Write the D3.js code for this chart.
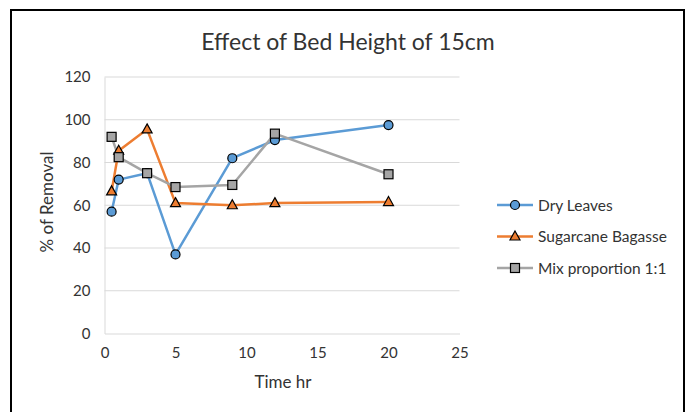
<!DOCTYPE html>
<html>
<head>
<meta charset="utf-8">
<script src="https://cdn.jsdelivr.net/npm/d3@7"></script>
<style>
  body { margin: 0; background: #fff; }
  text { font-family: Lato, "Open Sans", sans-serif; fill: #333; }
</style>
</head>
<body>
<svg id="chart" width="689" height="412"></svg>
<script>
const times = [0.5, 1, 3, 5, 9, 12, 20];
const dryLeaves = [57, 72, 75, 37, 82, 90.5, 97.5];
const bagasse = [66.5, 85.5, 95.5, 61, 60, 61, 61.5];
const mix = [92, 82.5, 75, 68.5, 69.5, 93.5, 74.5];
const xTicks = [0, 5, 10, 15, 20, 25];
const yTicks = [0, 20, 40, 60, 80, 100, 120];

const series = [
    { name: 'Dry Leaves', values: dryLeaves, color: '#5b9bd5', shape: 'circle' },
    { name: 'Sugarcane Bagasse', values: bagasse, color: '#ed7d31', shape: 'triangle' },
    { name: 'Mix proportion 1:1', values: mix, color: '#a5a5a5', shape: 'square' }
];

const svg = d3.select('#chart');

// outer frame
svg.append('rect')
    .attr('x', 11).attr('y', 10)
    .attr('width', 673).attr('height', 420)
    .attr('fill', 'none').attr('stroke', '#000').attr('stroke-width', 2);

const x = d3.scaleLinear().domain([0, 25]).range([104.5, 459.5]);
const y = d3.scaleLinear().domain([0, 120]).range([333.5, 77]);

// gridlines
svg.append('g').selectAll('line').data(yTicks.slice(1)).join('line')
    .attr('x1', x(0)).attr('x2', x(25))
    .attr('y1', d => y(d)).attr('y2', d => y(d))
    .attr('stroke', '#d9d9d9').attr('stroke-width', 1);

// axes
const xAxis = svg.append('g').attr('transform', `translate(0,${y(0)})`)
    .call(d3.axisBottom(x).tickValues(xTicks).tickSize(0).tickPadding(14));
xAxis.select('.domain').attr('stroke', '#d9d9d9');
xAxis.selectAll('text').attr('font-size', 15).attr('fill', '#333');

const yAxis = svg.append('g').attr('transform', `translate(${x(0)},0)`)
    .call(d3.axisLeft(y).tickValues(yTicks).tickSize(0).tickPadding(14));
yAxis.select('.domain').attr('stroke', '#d9d9d9');
yAxis.selectAll('text').attr('font-size', 15).attr('fill', '#333');

// title and axis labels
svg.append('text').attr('x', 348).attr('y', 50).attr('text-anchor', 'middle')
    .attr('font-size', 23).attr('fill', '#1a1a1a').text('Effect of Bed Height of 15cm');
svg.append('text').attr('x', 283).attr('y', 388).attr('text-anchor', 'middle')
    .attr('font-size', 17).attr('fill', '#1a1a1a').text('Time hr');
svg.append('text').attr('transform', 'translate(53,202) rotate(-90)')
    .attr('text-anchor', 'middle').attr('font-size', 17).attr('fill', '#1a1a1a').text('% of Removal');

function drawMarker(g, shape, color) {
    if (shape === 'circle') {
        g.append('circle').attr('r', 4.5);
    } else if (shape === 'triangle') {
        g.append('path').attr('d', 'M0,-5.5L5,3.5L-5,3.5Z');
    } else {
        g.append('rect').attr('x', -4.5).attr('y', -4.5).attr('width', 9).attr('height', 9);
    }
    g.selectAll('*').attr('fill', color).attr('stroke', '#000').attr('stroke-width', 1.2);
}

const line = d3.line().x((d, i) => x(times[i])).y(d => y(d));

series.forEach(s => {
    svg.append('path').datum(s.values)
        .attr('d', line).attr('fill', 'none')
        .attr('stroke', s.color).attr('stroke-width', 2.5)
        .attr('stroke-linejoin', 'round');
});
series.forEach(s => {
    s.values.forEach((v, i) => {
        const g = svg.append('g').attr('transform', `translate(${x(times[i])},${y(v)})`);
        drawMarker(g, s.shape, s.color);
    });
});

// legend
series.forEach((s, i) => {
    const ly = 205 + i * 31.5;
    const g = svg.append('g').attr('transform', `translate(497,${ly})`);
    g.append('line').attr('x1', 0).attr('x2', 36).attr('y1', 0).attr('y2', 0)
        .attr('stroke', s.color).attr('stroke-width', 2.5);
    const m = g.append('g').attr('transform', 'translate(18,0)');
    drawMarker(m, s.shape, s.color);
    g.append('text').attr('x', 41).attr('y', 5.5).attr('font-size', 15.5).attr('fill', '#1a1a1a').text(s.name);
});
</script>
</body>
</html>
